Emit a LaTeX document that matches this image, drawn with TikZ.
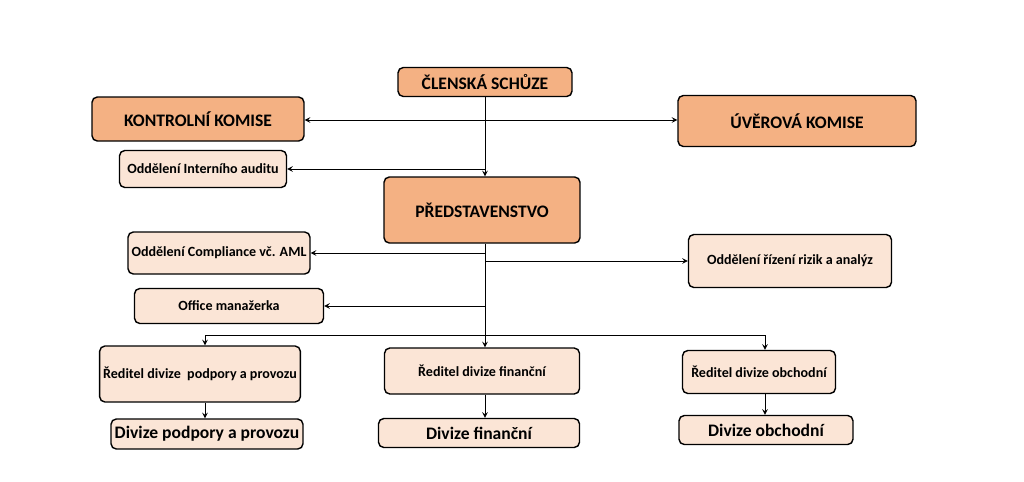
\documentclass[tikz,border=0pt]{standalone}
\usepackage{fontspec}
\setmainfont{Carlito}
\usetikzlibrary{arrows, positioning}
\definecolor{dark}{HTML}{F4B183}
\definecolor{light}{HTML}{FBE5D6}
\tikzset{
  box/.style={draw=black, thick, rounded corners=3pt, font=\bfseries, inner sep=2pt},
  bigbox/.style={box, fill=dark},
  smallbox/.style={box, fill=light, font=\bfseries\footnotesize},
  line/.style={draw, >=stealth}
}
\begin{document}
\begin{tikzpicture}[x=0.02cm, y=-0.02cm]
\useasboundingbox (0,0) rectangle (1024,481);

% upper level
\node[bigbox, minimum width=3.48cm, minimum height=0.58cm] (schuze) at (485,82) {ČLENSKÁ SCHŮZE};
\node[bigbox, minimum width=4.24cm, minimum height=0.88cm] (kontrol) at (198,119) {KONTROLNÍ KOMISE};
\node[bigbox, minimum width=4.76cm, minimum height=1.02cm] (uver) at (797,121) {ÚVĚROVÁ KOMISE};
\node[smallbox, minimum width=3.34cm, minimum height=0.74cm] (audit) at (203,169) {Oddělení Interního auditu};
\node[bigbox, minimum width=3.92cm, minimum height=1.32cm] (pred) at (482,210) {PŘEDSTAVENSTVO};

% departments
\node[smallbox, minimum width=3.32cm, minimum height=0.84cm] (compl) at (219,253) {Oddělení Compliance vč. AML};
\node[smallbox, minimum width=4.06cm, minimum height=1.06cm] (riz) at (790,261) {Oddělení řízení rizik a analýz};
\node[smallbox, minimum width=3.78cm, minimum height=0.70cm] (office) at (229,306) {Office manažerka};

% directors
\node[smallbox, minimum width=3.58cm, minimum height=1.12cm] (red1) at (200,374) {Ředitel divize\ \ podpory a provozu};
\node[smallbox, minimum width=3.90cm, minimum height=0.92cm] (red2) at (482,371) {Ředitel divize finanční};
\node[smallbox, minimum width=3.06cm, minimum height=0.86cm] (red3) at (759,372) {Ředitel divize obchodní};

% divisions
\node[smallbox, font=\bfseries, minimum width=3.84cm, minimum height=0.60cm] (div1) at (207,434) {Divize podpory a provozu};
\node[smallbox, font=\bfseries, minimum width=4.02cm, minimum height=0.58cm] (div2) at (479,433) {Divize finanční};
\node[smallbox, font=\bfseries, minimum width=3.48cm, minimum height=0.58cm] (div3) at (766,430) {Divize obchodní};

% connectors
\coordinate (j1) at (485,120);
\coordinate (j2) at (485,169);
\coordinate (j3) at (485,253);
\coordinate (j4) at (485,261);
\coordinate (j5) at (485,306);
\coordinate (j6) at (485,335);
\coordinate (l6) at (205,335);
\coordinate (r6) at (765,335);

\draw[line,->] (schuze.south -| j1) -- (pred.north -| j1);
\draw[line,<->] (kontrol.east |- j1) -- (uver.west |- j1);
\draw[line,->] (j2) -- (audit.east |- j2);
\draw[line] (pred.south -| j1) -- (j6);
\draw[line,->] (j3) -- (compl.east |- j3);
\draw[line,->] (j4) -- (riz.west |- j4);
\draw[line,->] (j5) -- (office.east |- j5);
\draw[line] (l6) -- (r6);
\draw[line,->] (l6) -- (red1.north -| l6);
\draw[line,->] (j6) -- (red2.north -| j6);
\draw[line,->] (r6) -- (red3.north -| r6);
\draw[line,->] (red1.south -| l6) -- (div1.north -| l6);
\draw[line,->] (red2.south -| j6) -- (div2.north -| j6);
\draw[line,->] (red3.south -| r6) -- (div3.north -| r6);

\end{tikzpicture}
\end{document}
